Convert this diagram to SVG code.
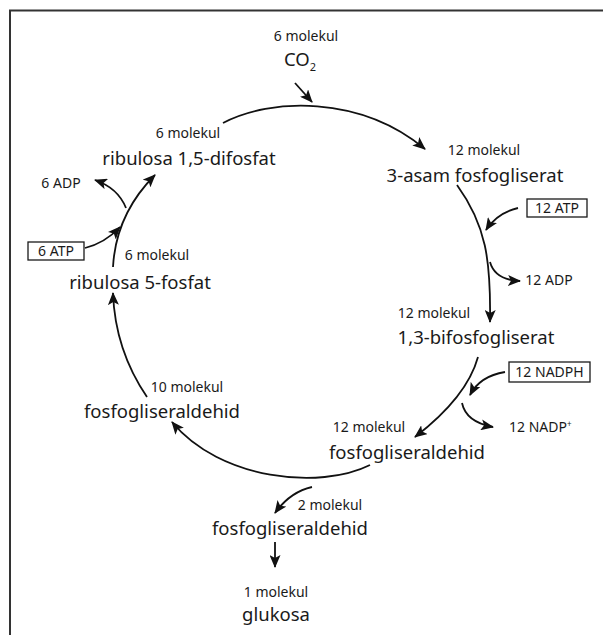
<svg xmlns="http://www.w3.org/2000/svg" width="603" height="635" viewBox="0 0 603 635">
<style>
.big{font-family:"Noto Sans","Open Sans","Liberation Sans",sans-serif;font-size:18.5px;fill:#1a1a1a;text-anchor:middle}
.sm{font-family:"Noto Sans","Open Sans","Liberation Sans",sans-serif;font-size:14px;fill:#1a1a1a;text-anchor:middle}
.box{fill:#fff;stroke:#1a1a1a;stroke-width:1.3}
.ln{fill:none;stroke:#111;stroke-width:1.8}
</style>
<defs>
<marker id="ah" markerUnits="userSpaceOnUse" markerWidth="13" markerHeight="11" viewBox="0 0 13 11" refX="12" refY="5.5" orient="auto">
<path d="M0 0 L13 5.5 L0 11 L3 5.5 Z" fill="#111"/>
</marker>
</defs>
<rect width="603" height="635" fill="#fff"/>
<g id="frame"><path d="M10 635 V10.5 H603" fill="none" stroke="#333" stroke-width="2"/></g>

<g id="connectors">
<path class="ln" d="M223 123 C270 98 360 95 425 149" marker-end="url(#ah)"/>
<path class="ln" d="M295 83 L312 102" marker-end="url(#ah)"/>
<path class="ln" d="M457 185 C486 225 491 260 490 322" marker-end="url(#ah)"/>
<path class="ln" d="M518 208 Q497 213 486 230" marker-end="url(#ah)"/>
<path class="ln" d="M490 262 Q495 280 520 281" marker-end="url(#ah)"/>
<path class="ln" d="M478 357 Q467 397 415 437" marker-end="url(#ah)"/>
<path class="ln" d="M505 372 Q480 376 470 395" marker-end="url(#ah)"/>
<path class="ln" d="M462 403 Q466 422 493 427" marker-end="url(#ah)"/>
<path class="ln" d="M370 465 C320 490 220 480 172 422" marker-end="url(#ah)"/>
<path class="ln" d="M147 397 Q115 350 113 293" marker-end="url(#ah)"/>
<path class="ln" d="M113 267 C115 230 130 200 155 175" marker-end="url(#ah)"/>
<path class="ln" d="M85 248 Q105 243 120 227" marker-end="url(#ah)"/>
<path class="ln" d="M126 208 Q118 188 95 180" marker-end="url(#ah)"/>
<path class="ln" d="M312 487 Q290 492 275 513" marker-end="url(#ah)"/>
<path class="ln" d="M275 542 L275 567" marker-end="url(#ah)"/>
</g>

<g id="co2">
<text class="sm" x="306" y="41">6 molekul</text>
<text class="big" x="300" y="66">CO<tspan font-size="11" dy="5">2</tspan></text>
</g>
<g id="rudp">
<text class="sm" x="188" y="138">6 molekul</text>
<text class="big" x="189" y="164.5">ribulosa 1,5-difosfat</text>
</g>
<g id="adp6"><text class="sm" x="61" y="188">6 ADP</text></g>
<g id="atp6">
<rect class="box" x="28" y="242" width="56" height="18"/>
<text class="sm" x="56" y="256">6 ATP</text>
</g>
<g id="ru5p">
<text class="sm" x="157" y="260">6 molekul</text>
<text class="big" x="140" y="288.5">ribulosa 5-fosfat</text>
</g>
<g id="pga">
<text class="sm" x="484" y="155">12 molekul</text>
<text class="big" x="475" y="181.5">3-asam fosfogliserat</text>
</g>
<g id="atp12">
<rect class="box" x="527" y="199" width="60" height="18"/>
<text class="sm" x="557" y="213">12 ATP</text>
</g>
<g id="adp12"><text class="sm" x="549" y="285">12 ADP</text></g>
<g id="bpg">
<text class="sm" x="434" y="318">12 molekul</text>
<text class="big" x="476" y="343.5">1,3-bifosfogliserat</text>
</g>
<g id="nadph">
<rect class="box" x="509" y="362" width="81" height="20"/>
<text class="sm" x="549.5" y="377">12 NADPH</text>
</g>
<g id="nadp"><text class="sm" x="509" y="432" style="text-anchor:start">12 NADP<tspan font-size="8" dy="-5">+</tspan></text></g>
<g id="g3p12">
<text class="sm" x="369" y="432">12 molekul</text>
<text class="big" x="407" y="458.5">fosfogliseraldehid</text>
</g>
<g id="g3p10">
<text class="sm" x="187" y="392">10 molekul</text>
<text class="big" x="162" y="417.5">fosfogliseraldehid</text>
</g>
<g id="g3p2">
<text class="sm" x="330" y="510">2 molekul</text>
<text class="big" x="290" y="534.5">fosfogliseraldehid</text>
</g>
<g id="glukosa">
<text class="sm" x="276" y="597">1 molekul</text>
<text class="big" x="276" y="621">glukosa</text>
</g>
</svg>
